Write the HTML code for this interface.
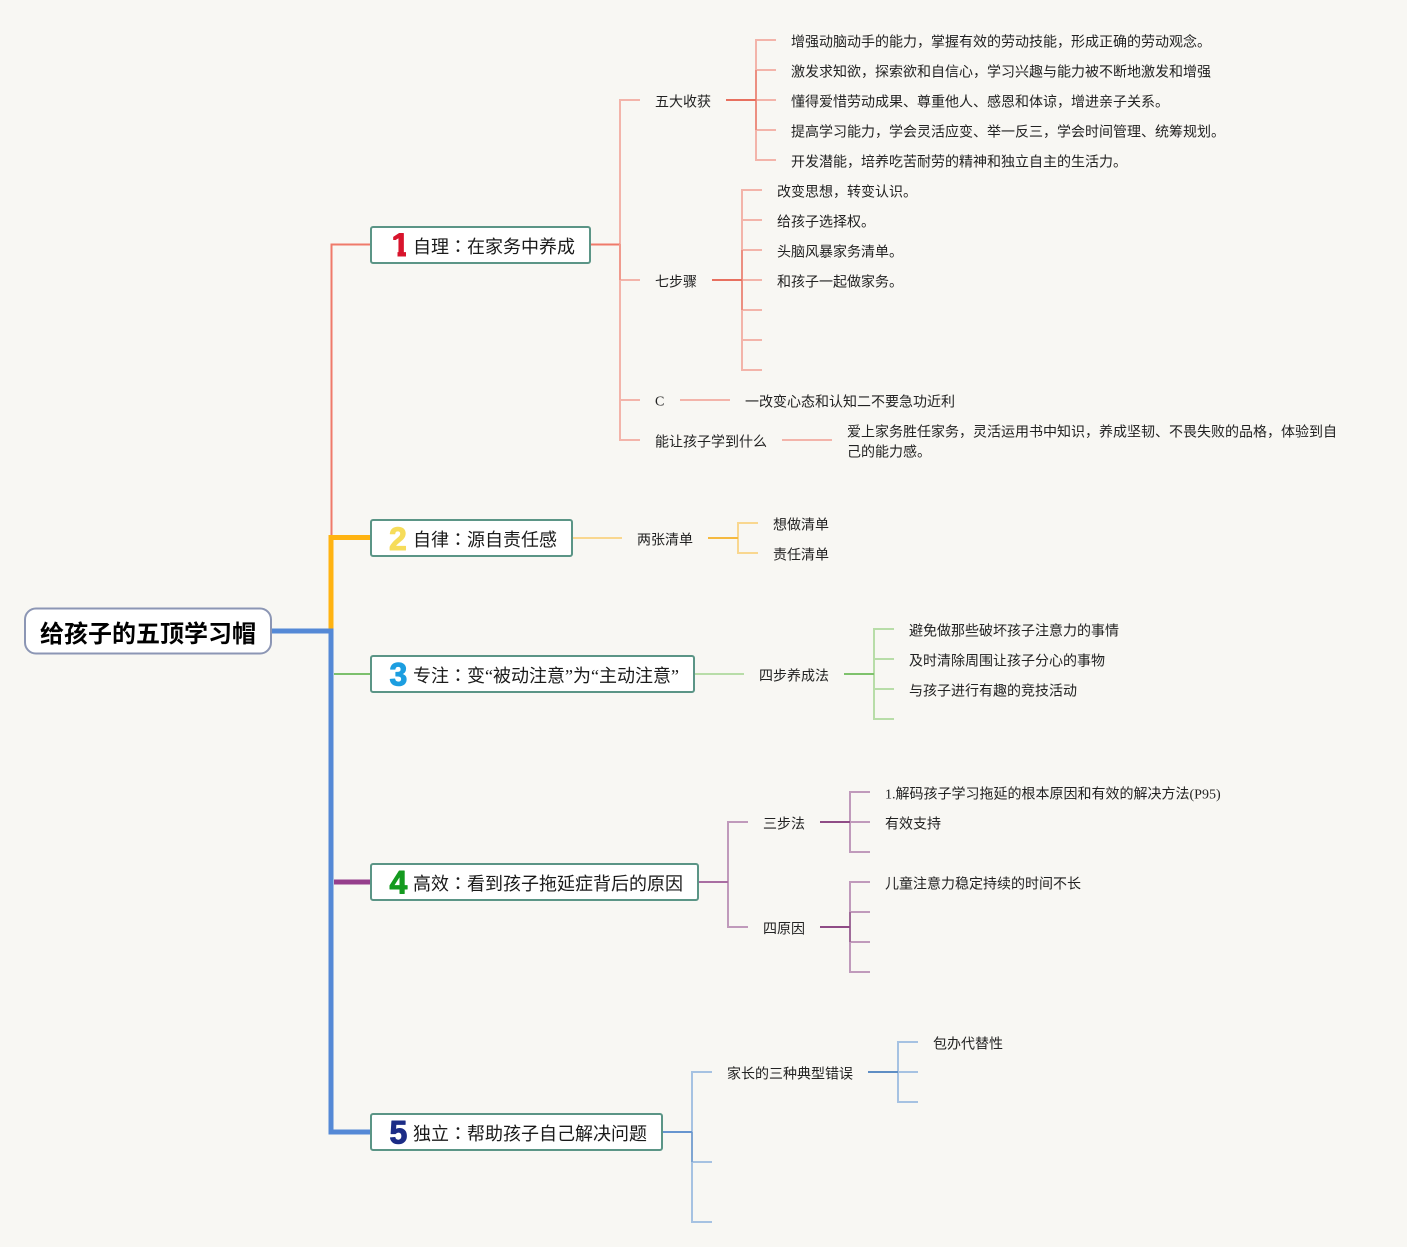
<!DOCTYPE html>
<html>
<head>
<meta charset="utf-8">
<style>
html,body{margin:0;padding:0;background:#f8f7f3;}
svg{display:block;}
text{font-family:"Liberation Serif","Noto Sans CJK SC",sans-serif;font-size:14px;fill:#222;}
text.h{font-size:18px;fill:#1a1a1a;}
text.h tspan{font-family:"Noto Sans CJK TC",sans-serif;}
text.n{font-family:"Liberation Sans",sans-serif;font-size:32px;font-weight:bold;stroke-width:1;stroke-linejoin:round;}
text.r{font-family:"Liberation Sans","Noto Sans CJK SC",sans-serif;font-size:24px;font-weight:bold;fill:#000;}
.box{fill:#fff;stroke:#5b9586;stroke-width:2;}
path,line{fill:none;}
</style>
</head>
<body>
<svg width="1407" height="1247" viewBox="0 0 1407 1247" xmlns="http://www.w3.org/2000/svg">
<defs>
<clipPath id="c1"><polygon points="392,230 406,230 406,258 397.500,258 397.500,240 392,240"/></clipPath>
</defs>
<rect width="1407" height="1247" fill="#f8f7f3"/>

<!-- level 1 connectors -->
<path d="M370 244.500H331.500V535" stroke="#ef7a6a" stroke-width="2"/>
<path d="M370 674H334" stroke="#7cc06c" stroke-width="2"/>
<path d="M331 629V537.500H370" stroke="#ffb311" stroke-width="5"/>
<path d="M334 882H370" stroke="#963f8c" stroke-width="5"/>
<path d="M271 631H331V1132H370" stroke="#5589d6" stroke-width="5"/>

<!-- root -->
<rect x="25" y="608.500" width="246" height="45" rx="11" fill="#fff" stroke="#8c96b4" stroke-width="2"/>
<text class="r" x="40" y="642">给孩子的五顶学习帽</text>

<!-- branch 1 -->
<path d="M640 100H620V440H640M620 280H640M620 400H640" stroke="#f3b4aa" stroke-width="2"/>
<path d="M590 244.500H620" stroke="#ef7a6a" stroke-width="2"/>
<path d="M620 244V280" stroke="#f09a8d" stroke-width="2"/>
<path d="M776 40H756V160H776M756 70H776M756 100H776M756 130H776" stroke="#f3b4aa" stroke-width="2"/>
<path d="M756 70V130" stroke="#ec8f81" stroke-width="2"/>
<path d="M726 100H756" stroke="#e8705f" stroke-width="2"/>
<path d="M762 190H742V370H762M742 220H762M742 250H762M742 280H762M742 310H762M742 340H762" stroke="#f3b4aa" stroke-width="2"/>
<path d="M742 250V310" stroke="#ec8f81" stroke-width="2"/>
<path d="M712 280H742" stroke="#e8705f" stroke-width="2"/>
<path d="M680 400H730M782 440H832" stroke="#f3b4aa" stroke-width="2"/>

<rect class="box" x="371" y="227" width="219" height="36" rx="2"/>
<text class="n" x="391.500" y="256" clip-path="url(#c1)" style="fill:#d8142c;stroke:#d8142c">1</text>
<text class="h" x="413" y="253">自理<tspan lang="zh-Hant">：</tspan>在家务中养成</text>

<g transform="translate(0,0.500)">
<text x="655" y="106">五大收获</text>
<text x="791" y="46">增强动脑动手的能力，掌握有效的劳动技能，形成正确的劳动观念。</text>
<text x="791" y="76">激发求知欲，探索欲和自信心，学习兴趣与能力被不断地激发和增强</text>
<text x="791" y="106">懂得爱惜劳动成果、尊重他人、感恩和体谅，增进亲子关系。</text>
<text x="791" y="136">提高学习能力，学会灵活应变、举一反三，学会时间管理、统筹规划。</text>
<text x="791" y="166">开发潜能，培养吃苦耐劳的精神和独立自主的生活力。</text>
<text x="655" y="286">七步骤</text>
<text x="777" y="196">改变思想，转变认识。</text>
<text x="777" y="226">给孩子选择权。</text>
<text x="777" y="256">头脑风暴家务清单。</text>
<text x="777" y="286">和孩子一起做家务。</text>
<text x="655" y="405">C</text>
<text x="745" y="406">一改变心态和认知二不要急功近利</text>
<text x="655" y="446">能让孩子学到什么</text>
<text x="847" y="436">爱上家务胜任家务，灵活运用书中知识，养成坚韧、不畏失败的品格，体验到自</text>
<text x="847" y="456">己的能力感。</text>
</g>

<!-- branch 2 -->
<path d="M572 538H622" stroke="#f9d78f" stroke-width="2"/>
<path d="M758 523H738V553H758" stroke="#f9d78f" stroke-width="2"/>
<path d="M708 538H738" stroke="#f5b93f" stroke-width="2"/>
<rect class="box" x="371" y="520" width="201" height="36" rx="2"/>
<text class="n" x="389" y="550" style="fill:#f6dc5a;stroke:#f6dc5a">2</text>
<text class="h" x="413" y="546">自律<tspan lang="zh-Hant">：</tspan>源自责任感</text>
<g transform="translate(0,0.500)">
<text x="637" y="544">两张清单</text>
<text x="773" y="529">想做清单</text>
<text x="773" y="559">责任清单</text>
</g>

<!-- branch 3 -->
<path d="M694 674H744" stroke="#b8dda8" stroke-width="2"/>
<path d="M894 629H874V719H894M874 659H894M874 689H894" stroke="#b8dda8" stroke-width="2"/>
<path d="M844 674H874" stroke="#7fc26c" stroke-width="2"/>
<rect class="box" x="371" y="656" width="323" height="36" rx="2"/>
<text class="n" x="389.500" y="685.500" style="fill:#1c9ee0;stroke:#1c9ee0">3</text>
<text class="h" x="413" y="682">专注<tspan lang="zh-Hant">：</tspan>变“被动注意”为“主动注意”</text>
<g transform="translate(0,0.500)">
<text x="759" y="680">四步养成法</text>
<text x="909" y="635">避免做那些破坏孩子注意力的事情</text>
<text x="909" y="665">及时清除周围让孩子分心的事物</text>
<text x="909" y="695">与孩子进行有趣的竞技活动</text>
</g>

<!-- branch 4 -->
<path d="M748 822H728V927H748" stroke="#c09abb" stroke-width="2"/>
<path d="M698 882H728" stroke="#a96ea2" stroke-width="2"/>
<path d="M870 792H850V852H870M850 822H870" stroke="#c09abb" stroke-width="2"/>
<path d="M870 882H850V972H870M850 912H870M850 942H870" stroke="#c09abb" stroke-width="2"/>
<path d="M850 912V942" stroke="#a06b99" stroke-width="2"/>
<path d="M820 822H850M820 927H850" stroke="#8f4c86" stroke-width="2"/>
<rect class="box" x="371" y="864" width="327" height="36" rx="2"/>
<text class="n" x="389.500" y="893.500" style="fill:#149a1f;stroke:#149a1f">4</text>
<text class="h" x="413" y="890">高效<tspan lang="zh-Hant">：</tspan>看到孩子拖延症背后的原因</text>
<g transform="translate(0,0.500)">
<text x="763" y="828">三步法</text>
<text x="763" y="933">四原因</text>
<text x="885" y="798">1.解码孩子学习拖延的根本原因和有效的解决方法(P95)</text>
<text x="885" y="828">有效支持</text>
<text x="885" y="888">儿童注意力稳定持续的时间不长</text>
</g>

<!-- branch 5 -->
<path d="M712 1072H692V1222H712M692 1162H712" stroke="#a6c2e2" stroke-width="2"/>
<path d="M692 1132V1162" stroke="#7fa5d2" stroke-width="2"/>
<path d="M662 1132H692" stroke="#6795cf" stroke-width="2"/>
<path d="M918 1042H898V1102H918M898 1072H918" stroke="#a6c2e2" stroke-width="2"/>
<path d="M868 1072H898" stroke="#5f8ec4" stroke-width="2"/>
<rect class="box" x="371" y="1114" width="291" height="36" rx="2"/>
<text class="n" x="389.500" y="1143.500" style="fill:#1c2c86;stroke:#1c2c86">5</text>
<text class="h" x="413" y="1140">独立<tspan lang="zh-Hant">：</tspan>帮助孩子自己解决问题</text>
<g transform="translate(0,0.500)">
<text x="727" y="1078">家长的三种典型错误</text>
<text x="933" y="1048">包办代替性</text>
</g>
</svg>
</body>
</html>
